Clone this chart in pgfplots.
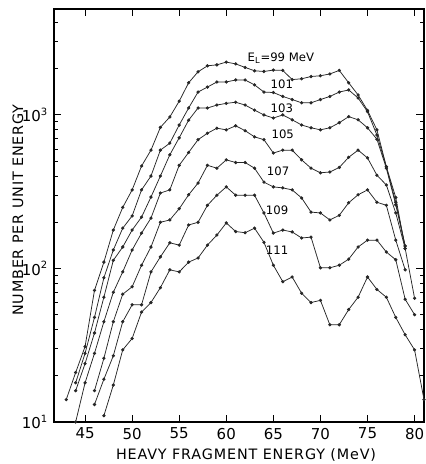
\documentclass[border=0pt]{standalone}
\usepackage{fontspec}
\setmainfont{DejaVu Sans}
\newfontfamily\lblfont[LetterSpace=6]{DejaVu Sans}
\usepackage{pgfplots}
\pgfplotsset{compat=1.18}
\pgfplotscreateplotcyclelist{onecol}{black!85,solid,mark=*,mark size=0.75pt,line width=0.45pt\\}
\begin{document}
\begin{tikzpicture}
\begin{axis}[
  at={(0,0)}, anchor=south west,
  scale only axis, width=222pt, height=247.8pt,
  xmin=41.7, xmax=81.0,
  ymode=log, ymin=10, ymax=4900,
  xtick={45,50,55,60,65,70,75,80},
  xticklabels={45,50,55,60,65,70,75,80},
  ytick={10,100,1000},
  yticklabels={10\textsuperscript{1},10\textsuperscript{2},10\textsuperscript{3}},
  minor ytick={20,30,40,50,60,70,80,90,200,300,400,500,600,700,800,900,2000,3000,4000},
  tick align=inside,
  major tick length=4.5pt, minor tick length=2.4pt,
  axis line style={line width=0.9pt},
  every tick/.style={black, line width=0.6pt},
  ticklabel style={font=\fontsize{9}{10}\selectfont},
  xlabel={\lblfont HEAVY FRAGMENT ENERGY (MeV)},
  ylabel={\lblfont NUMBER PER UNIT ENERGY},
  xlabel style={at={(axis description cs:0.519,-0.08)}, anchor=center, font=\fontsize{8.6}{10}\selectfont},
  ylabel style={at={(axis description cs:-0.0973,0.513)}, anchor=center, font=\fontsize{8.6}{10}\selectfont},
  cycle list name=onecol,
]
% E_L = 99
\addplot coordinates {(43,14)(44,21)(45,31)(46,72)(47,110)(48,178)(49,250)(50,325)(51,465)(52,590)(53,830)(54,970)(55,1230)(56,1620)(57,1910)(58,2090)(59,2120)(60,2210)(61,2150)(62,2040)(63,1940)(64,1920)(65,1960)(66,1950)(67,1700)(68,1720)(69,1780)(70,1800)(71,1850)(72,1950)(73,1620)(74,1350)(75,1070)(76,800)(77,460)(78,290)(79,135)(80,64)};
% 101
\addplot coordinates {(44,18)(45,28)(46,48)(47,87)(48,132)(49,183)(50,220)(51,325)(52,400)(53,590)(54,655)(55,860)(56,1110)(57,1410)(58,1520)(59,1640)(60,1640)(61,1690)(62,1690)(63,1570)(64,1410)(65,1400)(66,1320)(67,1260)(68,1200)(69,1200)(70,1260)(71,1320)(72,1410)(73,1455)(74,1290)(75,1050)(76,740)(77,460)(78,270)(79,140)};
% 103
\addplot coordinates {(44,16)(45,24)(46,38)(47,65)(48,113)(49,138)(50,178)(51,216)(52,292)(53,400)(54,550)(55,710)(56,925)(57,1110)(58,1110)(59,1160)(60,1190)(61,1210)(62,1160)(63,1075)(64,1000)(65,955)(66,1000)(67,930)(68,860)(69,825)(70,800)(71,825)(72,890)(73,975)(74,930)(75,825)(76,695)(77,450)(78,260)(79,140)};
% 105
\addplot coordinates {(44,10)(45,18)(46,28)(47,45)(48,70)(49,95)(50,132)(51,170)(52,213)(53,310)(54,325)(55,470)(56,570)(57,690)(58,760)(59,820)(60,800)(61,850)(62,790)(63,720)(64,690)(65,565)(66,590)(67,590)(68,510)(69,450)(70,420)(71,425)(72,455)(73,530)(74,590)(75,525)(76,405)(77,350)(78,230)(79,135)};
% 107
\addplot coordinates {(46,16)(47,26)(48,45)(49,68)(50,76)(51,105)(52,138)(53,200)(54,207)(55,245)(56,302)(57,360)(58,470)(59,450)(60,510)(61,490)(62,490)(63,450)(64,365)(65,340)(66,335)(67,325)(68,288)(69,233)(70,230)(71,207)(72,222)(73,268)(74,302)(75,325)(76,270)(77,258)(78,153)(79,98)};
% 109
\addplot coordinates {(46,13)(47,19)(48,27)(49,45)(50,58)(51,58)(52,95)(53,119)(54,147)(55,142)(56,192)(57,200)(58,258)(59,300)(60,340)(61,300)(62,300)(63,300)(64,230)(65,170)(66,178)(67,173)(68,158)(69,160)(70,101)(71,101)(72,105)(73,115)(74,138)(75,153)(76,153)(77,128)(78,114)(79,63)(80,50)};
% 111
\addplot coordinates {(47,11)(48,17.4)(49,29.5)(50,35)(51,52)(52,60)(53,75)(54,98)(55,95)(56,110)(57,117)(58,142)(59,165)(60,198)(61,174)(62,171)(63,183)(64,148)(65,105)(66,82)(67,88)(68,69)(69,60)(70,62)(71,43)(72,43)(73,54)(74,65)(75,88)(76,73)(77,65)(78,48)(79,37)(80,29.5)(81,14)};
\node[font=\fontsize{7}{8}\selectfont] at (axis cs:65.8,2350) {E\textsubscript{L}=99 MeV};
\node[font=\fontsize{7}{8}\selectfont] at (axis cs:65.9,1590) {101};
\node[font=\fontsize{7}{8}\selectfont] at (axis cs:65.9,1110) {103};
\node[font=\fontsize{7}{8}\selectfont] at (axis cs:66.0,752) {105};
\node[font=\fontsize{7}{8}\selectfont] at (axis cs:65.5,432) {107};
\node[font=\fontsize{7}{8}\selectfont] at (axis cs:65.4,240) {109};
\node[font=\fontsize{7}{8}\selectfont] at (axis cs:65.4,132) {111};
\end{axis}
\pgfresetboundingbox
\path[use as bounding box] (-32.4pt,-25.2pt) rectangle (222.6pt,253.2pt);
\end{tikzpicture}
\end{document}
